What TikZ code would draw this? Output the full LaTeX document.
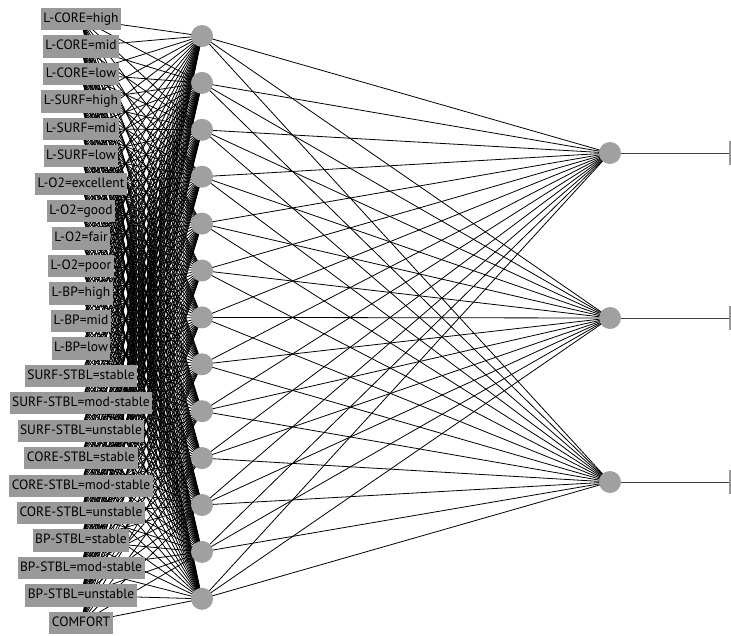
\documentclass[tikz,border=0pt]{standalone}
\usepackage{fontspec}
\setmainfont{PT Sans}
\usetikzlibrary{backgrounds}
\definecolor{wgray}{RGB}{153,153,153}
\definecolor{ngray}{RGB}{160,160,160}
\tikzset{
  lab/.style={fill=wgray, inner xsep=2.5pt, inner ysep=5pt, text height=9.5pt, text depth=2.8pt, font=\fontsize{13.5}{15}\selectfont},
  neuron/.style={circle, fill=ngray, minimum size=22pt, inner sep=0pt},
  clsbox/.style={fill=wgray, minimum width=20pt, minimum height=24pt, inner sep=0pt, anchor=west},
  wire/.style={black, line width=.8pt},
  outwire/.style={black!75, line width=1pt}
}
\begin{document}
\begin{tikzpicture}[x=1pt,y=-1pt]
		\clip (0,0) rectangle (731,635);
		% inputs
		\foreach \t [count=\i from 0] in {L-CORE=high,L-CORE=mid,L-CORE=low,L-SURF=high,L-SURF=mid,L-SURF=low,L-O2=excellent,L-O2=good,L-O2=fair,L-O2=poor,L-BP=high,L-BP=mid,L-BP=low,SURF-STBL=stable,SURF-STBL=mod-stable,SURF-STBL=unstable,CORE-STBL=stable,CORE-STBL=mod-stable,CORE-STBL=unstable,BP-STBL=stable,BP-STBL=mod-stable,BP-STBL=unstable,COMFORT}
			\node[lab] (in\i) at (81,19+27.45*\i) {\t};
		% hidden layer
		\foreach \j in {0,...,12} \node[neuron] (h\j) at (202,36+46.9*\j) {};
		% outputs
		\foreach \k/\y in {0/153,1/318,2/482} {
			\node[neuron] (o\k) at (610,\y) {};
			\node[clsbox] (c\k) at (729,\y) {};
		}
		\begin{scope}[on background layer]
			\foreach \i in {0,...,22} \foreach \j in {0,...,12} \draw[wire] (in\i.center) -- (h\j.center);
			\foreach \j in {0,...,12} \foreach \k in {0,1,2} \draw[wire] (h\j.center) -- (o\k.center);
			\foreach \k in {0,1,2} \draw[outwire] (o\k.center) -- (c\k.west);
		\end{scope}
\end{tikzpicture}
\end{document}
